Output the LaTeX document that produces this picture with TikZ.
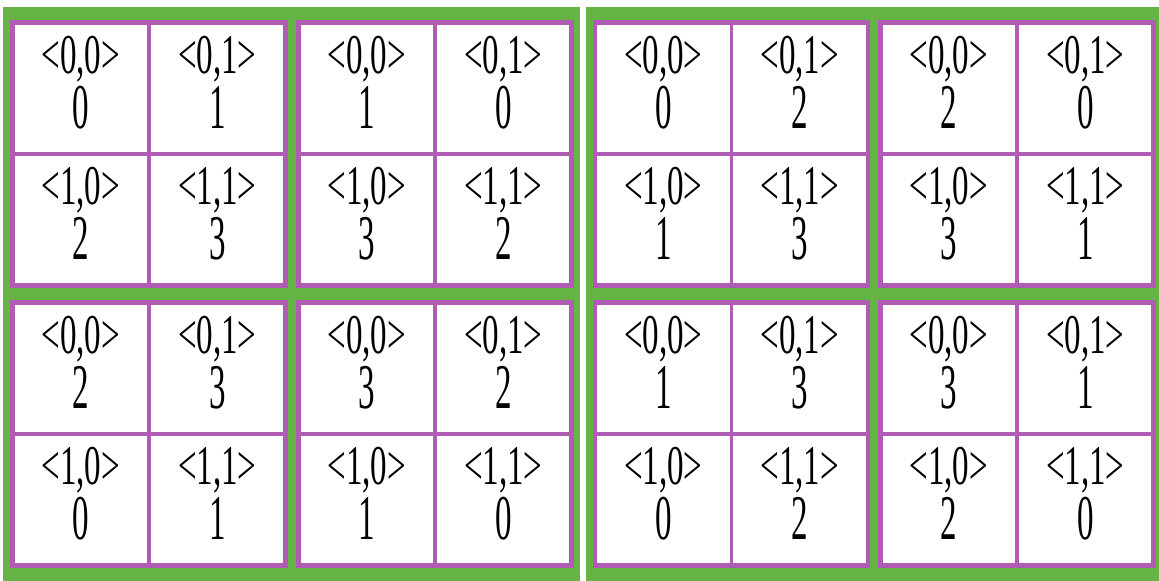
\documentclass[tikz,border=0pt]{standalone}
\usepackage{fontspec}
\setmainfont{Liberation Serif}
\usepackage{xcolor}
\usetikzlibrary{calc}
\definecolor{panelgreen}{HTML}{66B446}
\definecolor{blkmag}{HTML}{B05CB4}
\tikzset{
  panel/.style  ={fill=panelgreen, draw=none},
  blk/.style    ={rectangle, draw=blkmag, fill=white, line width=2.2pt,
                  minimum width=136.5pt, minimum height=131.5pt, inner sep=0pt},
  cellsep/.style={draw=blkmag, line width=1.8pt},
  keylab/.style ={anchor=base, inner sep=0pt, font=\fontsize{16.5}{18}\selectfont},
  keyval/.style ={anchor=base, inner sep=0pt, font=\fontsize{16.5}{18}\selectfont},
}
% one cell: block, tag, dx, dy, index, value
\newcommand{\keycell}[6]{%
  \node[keylab] (#1-#2-k) at ($(#1.center)+(#3,#4-15)$) {\scalebox{1}[1.7]{<#5>}};
  \node[keyval] (#1-#2-v) at ($(#1.center)+(#3,#4+40)$) {\scalebox{1}[1.93]{#6}};}
% one 2x2 block: name, x, y, four values
\newcommand{\keyblock}[7]{%
  \node[blk] (#1) at (#2,#3) {};
  \draw[cellsep] (#1.north) -- (#1.south);
  \draw[cellsep] (#1.west) -- (#1.east);
  \keycell{#1}{00}{-68.25}{-65.75}{0,0}{#4}
  \keycell{#1}{01}{68.25}{-65.75}{0,1}{#5}
  \keycell{#1}{10}{-68.25}{65.75}{1,0}{#6}
  \keycell{#1}{11}{68.25}{65.75}{1,1}{#7}}
\begin{document}
\begin{tikzpicture}[x=0.5pt, y=-0.5pt]
  \useasboundingbox (0,0) rectangle (1159,581);
  \fill[panel] (3,7) rectangle (580,581);
  \fill[panel] (586,7) rectangle (1159,581);

  % left panel
  \keyblock{ltl}{149}{154}{0}{1}{2}{3}
  \keyblock{ltr}{435}{154}{1}{0}{3}{2}
  \keyblock{lbl}{149}{434}{2}{3}{0}{1}
  \keyblock{lbr}{435}{434}{3}{2}{1}{0}

  % right panel
  \keyblock{rtl}{731.5}{154}{0}{2}{1}{3}
  \keyblock{rtr}{1017}{154}{2}{0}{3}{1}
  \keyblock{rbl}{731.5}{434}{1}{3}{0}{2}
  \keyblock{rbr}{1017}{434}{3}{1}{2}{0}
\end{tikzpicture}
\end{document}
